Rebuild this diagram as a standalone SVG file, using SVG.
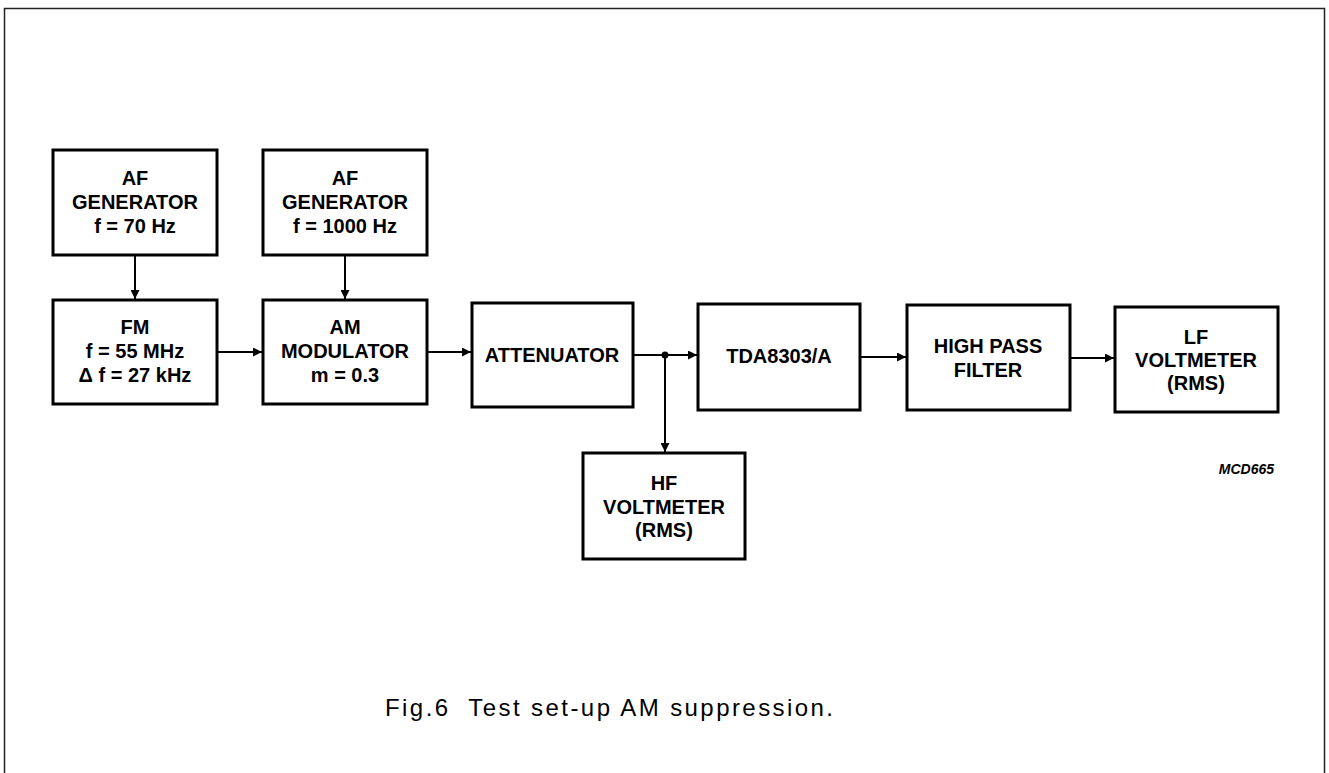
<svg xmlns="http://www.w3.org/2000/svg" width="1329" height="773" viewBox="0 0 1329 773">
<defs>
<style>
.box{fill:#fff;stroke:#000;stroke-width:3}
.t{font-family:"Liberation Sans",Arial,sans-serif;font-weight:bold;font-size:20px;text-anchor:middle;fill:#000}
.c{stroke:#000;stroke-width:2;fill:none}
</style>
<marker id="ah" viewBox="0 0 10 10" refX="10" refY="5" markerWidth="10" markerHeight="9" markerUnits="userSpaceOnUse" orient="auto">
<path d="M0,0 L10,5 L0,10 Z" fill="#000"/>
</marker>
</defs>
<rect x="0" y="0" width="1329" height="773" fill="#fff"/>
<rect x="4.5" y="8.5" width="1320" height="800" fill="none" stroke="#222" stroke-width="1.5"/>

<g id="af1"><rect class="box" x="53" y="150" width="164" height="105"/>
<text class="t" x="135" y="185">AF</text><text class="t" x="135" y="209">GENERATOR</text><text class="t" x="135" y="233">f = 70 Hz</text></g>
<g id="af2"><rect class="box" x="263" y="150" width="164" height="105"/>
<text class="t" x="345" y="185">AF</text><text class="t" x="345" y="209">GENERATOR</text><text class="t" x="345" y="233">f = 1000 Hz</text></g>
<g id="fm"><rect class="box" x="53" y="300" width="164" height="104"/>
<text class="t" x="135" y="334">FM</text><text class="t" x="135" y="358">f = 55 MHz</text><text class="t" x="135" y="382">Δ f = 27 kHz</text></g>
<g id="am"><rect class="box" x="263" y="300" width="164" height="104"/>
<text class="t" x="345" y="334">AM</text><text class="t" x="345" y="358">MODULATOR</text><text class="t" x="345" y="382">m = 0.3</text></g>
<g id="att"><rect class="box" x="472" y="303" width="161" height="104"/>
<text class="t" x="552" y="362">ATTENUATOR</text></g>
<g id="tda"><rect class="box" x="698" y="304" width="162" height="106"/>
<text class="t" x="779" y="363">TDA8303/A</text></g>
<g id="hpf"><rect class="box" x="907" y="305" width="163" height="105"/>
<text class="t" x="988" y="353">HIGH PASS</text><text class="t" x="988" y="377">FILTER</text></g>
<g id="lfv"><rect class="box" x="1115" y="307" width="163" height="105"/>
<text class="t" x="1196" y="344">LF</text><text class="t" x="1196" y="367">VOLTMETER</text><text class="t" x="1196" y="390">(RMS)</text></g>
<g id="hfv"><rect class="box" x="583" y="453" width="162" height="106"/>
<text class="t" x="664" y="490">HF</text><text class="t" x="664" y="514">VOLTMETER</text><text class="t" x="664" y="537">(RMS)</text></g>

<g id="connectors">
<line class="c" x1="135" y1="256" x2="135" y2="299" marker-end="url(#ah)"/>
<line class="c" x1="345" y1="256" x2="345" y2="299" marker-end="url(#ah)"/>
<line class="c" x1="218" y1="352" x2="262" y2="352" marker-end="url(#ah)"/>
<line class="c" x1="428" y1="352" x2="471" y2="352" marker-end="url(#ah)"/>
<line class="c" x1="634" y1="355" x2="697" y2="355" stroke-width="2.5" marker-end="url(#ah)"/>
<circle cx="665" cy="355" r="3.5" fill="#000"/>
<line class="c" x1="665" y1="355" x2="665" y2="452" marker-end="url(#ah)"/>
<line class="c" x1="861" y1="357" x2="906" y2="357" stroke-width="2.5" marker-end="url(#ah)"/>
<line class="c" x1="1071" y1="358" x2="1114" y2="358" stroke-width="2.5" marker-end="url(#ah)"/>
</g>

<text x="1274" y="474" font-family="'Liberation Sans',Arial,sans-serif" font-weight="bold" font-style="italic" font-size="14" text-anchor="end">MCD665</text>
<text x="385" y="716" xml:space="preserve" font-family="'Liberation Sans',Arial,sans-serif" font-size="24" textLength="448" lengthAdjust="spacing">Fig.6  Test set-up AM suppression.</text>
</svg>
